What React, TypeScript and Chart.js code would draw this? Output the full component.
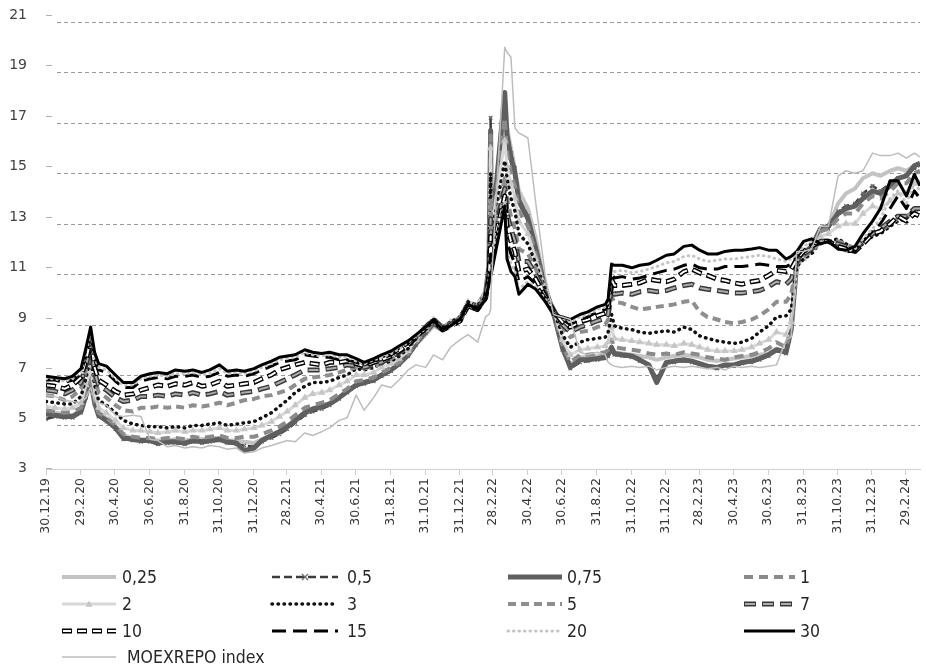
import React, { useEffect, useRef } from "react";
import { Chart, registerables } from "chart.js";

Chart.register(...registerables);

// Observation dates of the zero-coupon curve
const dates = [
  "2019-12-30", "2020-01-15", "2020-02-01", "2020-02-15", "2020-03-01", "2020-03-10", "2020-03-18", "2020-03-25", "2020-04-01", "2020-04-15", "2020-05-01", "2020-05-15", "2020-06-01", "2020-06-15",
  "2020-07-01", "2020-07-15", "2020-08-01", "2020-08-15", "2020-09-01", "2020-09-15", "2020-10-01", "2020-10-15", "2020-11-01", "2020-11-15", "2020-12-01", "2020-12-15",
  "2021-01-01", "2021-01-15", "2021-02-01", "2021-02-15", "2021-03-01", "2021-03-15", "2021-04-01", "2021-04-15", "2021-05-01", "2021-05-15", "2021-06-01", "2021-06-15", "2021-07-01", "2021-07-15", "2021-08-01", "2021-08-15",
  "2021-09-01", "2021-09-15", "2021-10-01", "2021-10-15", "2021-11-01", "2021-11-15", "2021-12-01", "2021-12-15", "2022-01-01", "2022-01-15", "2022-02-01", "2022-02-15", "2022-02-21", "2022-02-24", "2022-02-25",
  "2022-03-21", "2022-03-25", "2022-04-01", "2022-04-08", "2022-04-15", "2022-05-01", "2022-05-15", "2022-06-01", "2022-06-15",
  "2022-07-01", "2022-07-15", "2022-08-01", "2022-08-15", "2022-09-01", "2022-09-15", "2022-09-20", "2022-09-26",
  "2022-10-01", "2022-10-15", "2022-11-01", "2022-11-15", "2022-12-01", "2022-12-15", "2023-01-01", "2023-01-15", "2023-02-01", "2023-02-15", "2023-03-01", "2023-03-15", "2023-04-01", "2023-04-15", "2023-05-01", "2023-05-15", "2023-06-01", "2023-06-15", "2023-07-01", "2023-07-15",
  "2023-08-01", "2023-08-10", "2023-08-20", "2023-09-01", "2023-09-15", "2023-10-01", "2023-10-15", "2023-11-01", "2023-11-15", "2023-12-01", "2023-12-15", "2024-01-01", "2024-01-15", "2024-02-01", "2024-02-15", "2024-03-01", "2024-03-15", "2024-03-25",
];

// Yields by term (years), %
const y025 = [
  5.5, 5.5, 5.45, 5.4, 5.6, 6.3, 7.0, 6.0, 5.5, 5.3, 5.0, 4.6, 4.5, 4.45,
  4.45, 4.4, 4.4, 4.45, 4.4, 4.45, 4.45, 4.5, 4.5, 4.4, 4.4, 4.35,
  4.3, 4.45, 4.6, 4.75, 4.9, 5.15, 5.45, 5.6, 5.7, 5.85, 6.1, 6.3, 6.6, 6.7, 6.8, 7.0,
  7.2, 7.4, 7.75, 8.2, 8.6, 8.95, 8.75, 9.0, 9.2, 9.75, 9.7, 10.15, 11.0, 16.6, 12.0,
  17.6, 16.8, 16.0, 15.2, 14.3, 13.6, 12.4, 10.5, 9.4,
  8.0, 7.4, 7.7, 7.7, 7.75, 7.8, 7.85, 8.0,
  7.9, 7.85, 7.8, 7.75, 7.7, 7.6, 7.7, 7.75, 7.8, 7.75, 7.7, 7.6, 7.55, 7.6, 7.65, 7.7, 7.75, 7.8, 7.85, 8.05,
  7.9, 8.9, 11.6, 11.9, 12.0, 12.8, 12.9, 13.8, 14.2, 14.4, 14.8, 15.0, 14.9, 15.1, 15.2, 15.1, 15.3, 15.4,
];
const y05 = [
  5.25, 5.35, 5.3, 5.3, 5.5, 6.1, 6.7, 5.85, 5.35, 5.15, 4.85, 4.45, 4.4, 4.35,
  4.35, 4.25, 4.3, 4.3, 4.25, 4.35, 4.3, 4.35, 4.4, 4.3, 4.25, 4.2,
  4.15, 4.35, 4.5, 4.65, 4.85, 5.1, 5.4, 5.55, 5.65, 5.8, 6.05, 6.3, 6.55, 6.65, 6.75, 6.95,
  7.15, 7.4, 7.75, 8.2, 8.65, 9.0, 8.8, 9.05, 9.25, 9.8, 9.75, 10.2, 11.2, 17.2, 12.2,
  18.0, 16.7, 15.8, 15.2, 14.0, 13.3, 12.0, 10.3, 9.4,
  8.0, 7.25, 7.5, 7.55, 7.6, 7.65, 7.75, 8.0,
  7.8, 7.75, 7.7, 7.55, 7.35, 6.9, 7.45, 7.5, 7.55, 7.5, 7.4, 7.3, 7.25, 7.35, 7.35, 7.45, 7.5, 7.6, 7.75, 7.95,
  7.85, 8.8, 11.5, 11.8, 12.0, 12.7, 12.8, 13.5, 13.7, 13.8, 14.2, 14.5, 14.3, 14.6, 14.8, 14.9, 15.2, 15.3,
];
const y075 = [
  5.45, 5.4, 5.35, 5.35, 5.55, 6.2, 6.8, 5.9, 5.4, 5.2, 4.9, 4.5, 4.45, 4.4,
  4.4, 4.3, 4.35, 4.35, 4.3, 4.4, 4.35, 4.4, 4.45, 4.35, 4.3, 4.0,
  4.1, 4.4, 4.6, 4.75, 4.95, 5.2, 5.5, 5.65, 5.75, 5.85, 6.1, 6.35, 6.6, 6.7, 6.8, 7.0,
  7.2, 7.45, 7.8, 8.25, 8.7, 9.05, 8.8, 9.05, 9.25, 9.8, 9.75, 10.25, 11.3, 16.7, 12.3,
  18.2, 16.5, 15.6, 15.0, 13.9, 13.2, 12.0, 10.4, 9.5,
  8.1, 7.3, 7.6, 7.6, 7.65, 7.7, 7.8, 8.1,
  7.85, 7.8, 7.75, 7.6, 7.4, 6.7, 7.5, 7.55, 7.6, 7.55, 7.45, 7.35, 7.3, 7.4, 7.4, 7.5, 7.55, 7.65, 7.8, 8.0,
  7.9, 8.8, 11.5, 11.8, 12.1, 12.8, 12.9, 13.4, 13.6, 13.7, 14.0, 14.3, 14.2, 14.5, 14.8, 14.9, 15.3, 15.4,
];
const y1 = [
  5.6, 5.55, 5.5, 5.55, 5.7, 6.4, 7.0, 6.0, 5.5, 5.3, 5.0, 4.65, 4.55, 4.5,
  4.5, 4.45, 4.5, 4.5, 4.45, 4.55, 4.5, 4.55, 4.6, 4.5, 4.5, 4.55,
  4.55, 4.65, 4.8, 4.95, 5.15, 5.4, 5.7, 5.8, 5.9, 6.0, 6.25, 6.45, 6.75, 6.8, 6.9, 7.1,
  7.3, 7.5, 7.85, 8.3, 8.75, 9.1, 8.85, 9.1, 9.3, 9.85, 9.8, 10.3, 11.3, 16.5, 12.5,
  17.2, 15.8, 15.0, 14.5, 13.5, 12.9, 11.8, 10.4, 9.5,
  8.2, 7.5, 7.8, 7.8, 7.85, 7.9, 8.0, 8.4,
  8.1, 8.05, 8.0, 7.95, 7.85, 7.8, 7.85, 7.8, 7.9, 7.85, 7.8, 7.7, 7.65, 7.6, 7.7, 7.75, 7.8, 7.9, 8.05, 8.3,
  8.1, 8.9, 11.4, 11.7, 12.0, 12.7, 12.8, 13.2, 13.4, 13.4, 13.8, 14.1, 14.0, 14.3, 14.6, 14.6, 15.0, 15.1,
];
const y2 = [
  5.75, 5.7, 5.65, 5.7, 5.9, 6.6, 7.3, 6.3, 5.7, 5.5, 5.2, 4.9, 4.8, 4.8,
  4.75, 4.7, 4.75, 4.8, 4.75, 4.8, 4.8, 4.85, 4.9, 4.8, 4.8, 4.85,
  4.9, 5.0, 5.15, 5.35, 5.55, 5.8, 6.1, 6.25, 6.3, 6.4, 6.6, 6.75, 7.0, 7.0, 7.1, 7.3,
  7.45, 7.65, 7.95, 8.4, 8.8, 9.2, 8.9, 9.1, 9.3, 9.9, 9.8, 10.3, 11.3, 16.0, 12.7,
  16.3, 15.3, 14.6, 14.0, 13.1, 12.6, 11.6, 10.4, 9.6,
  8.4, 7.8, 8.0, 8.05, 8.1, 8.15, 8.3, 8.9,
  8.45, 8.4, 8.35, 8.3, 8.25, 8.2, 8.2, 8.15, 8.25, 8.2, 8.1, 8.0, 7.95, 7.95, 7.95, 8.0, 8.1, 8.25, 8.4, 8.7,
  8.6, 9.1, 11.3, 11.6, 11.9, 12.5, 12.6, 12.9, 13.0, 13.0, 13.4, 13.7, 13.6, 13.9, 14.2, 14.2, 14.6, 14.6,
];
const y3 = [
  5.95, 5.9, 5.85, 5.85, 6.15, 6.9, 7.7, 6.6, 6.0, 5.8, 5.5, 5.2, 5.05, 5.0,
  4.95, 4.95, 4.9, 4.95, 4.9, 5.0, 5.0, 5.05, 5.1, 5.0, 5.05, 5.1,
  5.15, 5.3, 5.5, 5.75, 6.0, 6.3, 6.55, 6.7, 6.7, 6.75, 6.9, 7.0, 7.25, 7.2, 7.3, 7.45,
  7.55, 7.75, 8.05, 8.45, 8.85, 9.25, 8.9, 9.1, 9.3, 9.9, 9.75, 10.25, 11.2, 15.0, 12.5,
  15.5, 14.8, 14.0, 13.5, 12.6, 12.2, 11.4, 10.4, 9.6,
  8.6, 8.1, 8.3, 8.4, 8.45, 8.5, 8.7, 9.4,
  8.95, 8.85, 8.8, 8.7, 8.65, 8.7, 8.75, 8.7, 8.9, 8.8, 8.55, 8.45, 8.35, 8.3, 8.25, 8.3, 8.45, 8.7, 8.95, 9.3,
  9.35, 9.6, 11.3, 11.6, 11.8, 12.3, 12.3, 12.4, 12.2, 12.0, 12.2, 12.5, 12.6, 12.9, 13.1, 13.2, 13.6, 13.7,
];
const y5 = [
  6.2, 6.15, 6.0, 6.15, 6.45, 7.2, 8.0, 6.9, 6.3, 6.1, 5.8, 5.6, 5.55, 5.7,
  5.7, 5.75, 5.7, 5.75, 5.7, 5.8, 5.75, 5.8, 5.9, 5.8, 5.9, 6.0,
  6.05, 6.15, 6.2, 6.3, 6.4, 6.6, 6.85, 6.9, 6.95, 7.0, 7.1, 7.2, 7.3, 7.25, 7.35, 7.45,
  7.65, 7.85, 8.15, 8.5, 8.9, 9.25, 8.9, 9.05, 9.25, 9.85, 9.7, 10.2, 11.1, 14.0, 12.2,
  14.8, 14.0, 13.3, 12.8, 12.0, 11.8, 11.2, 10.3, 9.6,
  8.9, 8.5, 8.7, 8.75, 8.9, 9.0, 9.2, 10.1,
  9.9, 9.85, 9.7, 9.6, 9.65, 9.7, 9.75, 9.8, 9.9, 9.95, 9.5, 9.3, 9.2, 9.1, 9.05, 9.1, 9.2, 9.35, 9.6, 9.9,
  9.9, 10.2, 11.4, 11.7, 11.9, 12.3, 12.3, 12.3, 12.2, 12.0, 12.3, 12.6, 12.7, 13.0, 13.2, 13.3, 13.5, 13.6,
];
const y7 = [
  6.4, 6.35, 6.25, 6.4, 6.7, 7.4, 8.2, 7.1, 6.6, 6.4, 6.1, 5.95, 6.0, 6.15,
  6.15, 6.2, 6.15, 6.25, 6.2, 6.3, 6.2, 6.25, 6.35, 6.2, 6.25, 6.3,
  6.35, 6.45, 6.55, 6.7, 6.85, 7.0, 7.2, 7.2, 7.2, 7.25, 7.3, 7.4, 7.35, 7.3, 7.4, 7.5,
  7.7, 7.9, 8.2, 8.5, 8.9, 9.2, 8.85, 9.0, 9.2, 9.8, 9.65, 10.1, 11.0, 13.2, 12.0,
  14.4, 13.4, 12.8, 12.3, 11.5, 11.5, 11.0, 10.2, 9.6,
  9.0, 8.7, 8.9, 9.0, 9.15, 9.25, 9.4, 10.5,
  10.2, 10.25, 10.2, 10.3, 10.35, 10.3, 10.35, 10.45, 10.55, 10.6, 10.45, 10.4, 10.35, 10.3, 10.25, 10.25, 10.3, 10.35, 10.5, 10.7,
  10.6, 10.8, 11.5, 11.8, 12.0, 12.3, 12.3, 12.2, 12.1, 12.0, 12.3, 12.6, 12.8, 13.1, 13.3, 13.3, 13.6, 13.6,
];
const y10 = [
  6.6, 6.55, 6.45, 6.6, 6.9, 7.6, 8.4, 7.3, 6.8, 6.6, 6.35, 6.2, 6.25, 6.4,
  6.5, 6.6, 6.55, 6.65, 6.6, 6.7, 6.55, 6.6, 6.75, 6.55, 6.6, 6.65,
  6.7, 6.85, 7.0, 7.2, 7.3, 7.4, 7.5, 7.45, 7.4, 7.5, 7.5, 7.55, 7.45, 7.35, 7.5, 7.6,
  7.75, 7.95, 8.2, 8.5, 8.85, 9.15, 8.8, 8.95, 9.15, 9.75, 9.6, 10.05, 10.9, 12.5, 11.8,
  14.1, 12.9, 12.3, 11.9, 11.1, 11.2, 10.8, 10.1, 9.55,
  9.1, 8.9, 9.1, 9.2, 9.35, 9.45, 9.6, 10.8,
  10.55, 10.55, 10.6, 10.65, 10.8, 10.75, 10.7, 10.8, 11.1, 11.2, 11.05, 10.95, 10.8, 10.75, 10.65, 10.6, 10.7, 10.75, 10.95, 11.15,
  11.1, 11.2, 11.6, 11.9, 12.1, 12.3, 12.3, 12.1, 12.0, 11.9, 12.2, 12.6, 12.7, 13.0, 13.3, 13.1, 13.4, 13.3,
];
const y15 = [
  6.8, 6.8, 6.7, 6.8, 7.1, 7.8, 8.6, 7.6, 7.2, 7.1, 6.75, 6.5, 6.5, 6.75,
  6.85, 6.9, 6.85, 6.95, 6.95, 7.0, 6.9, 6.95, 7.1, 6.95, 7.0, 6.95,
  7.05, 7.2, 7.35, 7.5, 7.55, 7.6, 7.8, 7.75, 7.7, 7.7, 7.6, 7.6, 7.5, 7.4, 7.55, 7.65,
  7.8, 8.0, 8.25, 8.5, 8.85, 9.1, 8.75, 8.9, 9.1, 9.7, 9.55, 10.0, 10.8, 11.8, 11.5,
  13.9, 12.3, 11.8, 11.4, 10.7, 10.9, 10.6, 10.05, 9.5,
  9.2, 9.0, 9.2, 9.3, 9.5, 9.6, 9.8, 11.0,
  10.85, 10.9, 10.8, 10.85, 10.95, 11.05, 11.15, 11.2, 11.35, 11.4, 11.25, 11.2, 11.2, 11.3, 11.3, 11.3, 11.35, 11.4, 11.35, 11.3,
  11.3, 11.4, 11.7, 12.0, 12.2, 12.2, 12.3, 12.0, 11.9, 11.9, 12.3, 12.7, 13.0, 13.6, 14.1, 13.6, 14.3, 14.0,
];
const y20 = [
  6.85, 6.85, 6.75, 6.85, 7.15, 7.9, 8.7, 7.7, 7.3, 7.2, 6.85, 6.6, 6.6, 6.85,
  6.95, 7.0, 6.95, 7.05, 7.05, 7.1, 7.0, 7.05, 7.25, 7.05, 7.1, 7.05,
  7.15, 7.3, 7.45, 7.6, 7.65, 7.7, 7.9, 7.8, 7.75, 7.8, 7.7, 7.7, 7.55, 7.45, 7.6, 7.7,
  7.85, 8.05, 8.3, 8.55, 8.85, 9.1, 8.8, 8.9, 9.15, 9.75, 9.6, 10.0, 10.7, 11.3, 11.2,
  13.9, 11.9, 11.4, 11.1, 10.4, 10.7, 10.5, 10.0, 9.45,
  9.25, 9.1, 9.3, 9.4, 9.6, 9.7, 9.9, 11.2,
  11.1, 11.15, 11.05, 11.1, 11.2, 11.3, 11.45, 11.5, 11.7, 11.75, 11.6, 11.5, 11.55, 11.6, 11.6, 11.65, 11.7, 11.75, 11.7, 11.6,
  11.5, 11.6, 11.8, 12.1, 12.3, 12.2, 12.3, 12.0, 11.9, 12.0, 12.4, 12.8, 13.2, 14.0, 14.3, 13.8, 14.6, 14.3,
];
const y30 = [
  6.95, 6.9, 6.85, 6.95, 7.25, 8.1, 8.9, 7.9, 7.45, 7.35, 7.0, 6.7, 6.7, 6.95,
  7.05, 7.1, 7.05, 7.2, 7.15, 7.2, 7.1, 7.2, 7.4, 7.15, 7.2, 7.15,
  7.25, 7.4, 7.55, 7.7, 7.75, 7.8, 8.0, 7.9, 7.85, 7.9, 7.8, 7.8, 7.65, 7.5, 7.65, 7.8,
  7.95, 8.15, 8.35, 8.6, 8.9, 9.15, 8.8, 8.95, 9.2, 9.8, 9.6, 10.0, 10.6, 11.0, 11.0,
  13.7, 11.6, 11.1, 10.9, 10.2, 10.6, 10.4, 9.9, 9.4,
  9.3, 9.2, 9.4, 9.5, 9.7, 9.8, 10.0, 11.4,
  11.35, 11.35, 11.25, 11.35, 11.4, 11.55, 11.75, 11.8, 12.1, 12.15, 11.95, 11.8, 11.8, 11.9, 11.95, 11.95, 12.0, 12.05, 11.95, 11.95,
  11.6, 11.7, 11.9, 12.3, 12.4, 12.2, 12.3, 12.0, 11.95, 12.1, 12.6, 13.1, 13.6, 14.7, 14.7, 14.1, 14.95, 14.5,
];
// MOEXREPO overnight repo index, %
const moexrepo = [
  6.2, 6.15, 6.0, 5.95, 5.9, 6.1, 6.5, 6.0, 5.9, 5.8, 5.4, 5.35, 5.4, 5.35,
  4.45, 4.4, 4.15, 4.2, 4.1, 4.15, 4.1, 4.2, 4.15, 4.05, 4.1, 3.9,
  3.95, 4.1, 4.2, 4.3, 4.4, 4.35, 4.7, 4.6, 4.75, 4.9, 5.2, 5.3, 6.2, 5.6, 6.1, 6.6,
  6.5, 6.8, 7.2, 7.4, 7.3, 7.8, 7.6, 8.1, 8.4, 8.6, 8.3, 9.3, 9.4, 9.6, 10.5,
  20.0, 19.8, 19.6, 16.8, 16.6, 16.4, 13.8, 10.9, 9.4,
  9.3, 9.2, 7.9, 7.8, 7.9, 7.8, 7.5, 7.4,
  7.35, 7.3, 7.35, 7.3, 7.35, 7.2, 7.3, 7.35, 7.3, 7.35, 7.3, 7.25, 7.3, 7.2, 7.35, 7.3, 7.35, 7.3, 7.35, 7.4,
  8.4, 8.5, 11.9, 11.9, 12.0, 12.9, 12.9, 14.9, 15.1, 15.0, 15.1, 15.8, 15.7, 15.7, 15.8, 15.6, 15.8, 15.65,
];

const seriesNames = ["0,25", "0,5", "0,75", "1", "2", "3", "5", "7", "10", "15", "20", "30", "MOEXREPO index"];
const seriesValues = [y025, y05, y075, y1, y2, y3, y5, y7, y10, y15, y20, y30, moexrepo];

// Date axis ticks
const axisTickDates = [
  "2019-12-30", "2020-02-29", "2020-04-30", "2020-06-30", "2020-08-31", "2020-10-31", "2020-12-31",
  "2021-02-28", "2021-04-30", "2021-06-30", "2021-08-31", "2021-10-31", "2021-12-31",
  "2022-02-28", "2022-04-30", "2022-06-30", "2022-08-31", "2022-10-31", "2022-12-31",
  "2023-02-28", "2023-04-30", "2023-06-30", "2023-08-31", "2023-10-31", "2023-12-31", "2024-02-29",
];
const axisTickLabels = [
  "30.12.19", "29.2.20", "30.4.20", "30.6.20", "31.8.20", "31.10.20", "31.12.20",
  "28.2.21", "30.4.21", "30.6.21", "31.8.21", "31.10.21", "31.12.21",
  "28.2.22", "30.4.22", "30.6.22", "31.8.22", "31.10.22", "31.12.22",
  "28.2.23", "30.4.23", "30.6.23", "31.8.23", "31.10.23", "31.12.23", "29.2.24",
];
const yTickValues = [3, 5, 7, 9, 11, 13, 15, 17, 19, 21];

const legendRows = [
  ["0,25", "0,5", "0,75", "1"],
  ["2", "3", "5", "7"],
  ["10", "15", "20", "30"],
  ["MOEXREPO index"],
];

type Stroke = { color: string; width: number; dash?: number[]; dashOffset?: number; cap?: CanvasLineCap };
type LineStyle = Stroke & { inner?: Stroke; point?: "crossRot" | "triangle"; pointColor?: string; pointRadius?: number };

const lineStyles: Record<string, LineStyle> = {
  "0,25": { color: "#c3c3c3", width: 4 },
  "0,5": { color: "#3c3c3c", width: 2.5, dash: [8, 4], point: "crossRot", pointColor: "#6a6a6a", pointRadius: 2.5 },
  "0,75": { color: "#5f5f5f", width: 5 },
  "1": { color: "#8a8a8a", width: 4, dash: [9, 6] },
  "2": { color: "#d8d8d8", width: 3, point: "triangle", pointColor: "#c6c6c6", pointRadius: 3 },
  "3": { color: "#111111", width: 3.5, dash: [0.5, 5.5], cap: "round" },
  "5": { color: "#8e8e8e", width: 4, dash: [8, 5] },
  "7": { color: "#383838", width: 5, dash: [12, 6], inner: { color: "#ababab", width: 2, dash: [10, 8], dashOffset: -1 } },
  "10": { color: "#000000", width: 5, dash: [10, 5], inner: { color: "#ffffff", width: 2, dash: [8, 7], dashOffset: -1 } },
  "15": { color: "#000000", width: 3, dash: [14, 7] },
  "20": { color: "#c4c4c4", width: 3, dash: [0.5, 5], cap: "round" },
  "30": { color: "#000000", width: 3 },
  "MOEXREPO index": { color: "#bdbdbd", width: 1.5 },
};

const DAY0 = Date.UTC(2019, 11, 30);
const dayOf = (s: string) => {
  const [y, m, d] = s.split("-").map(Number);
  return Math.round((Date.UTC(y, m - 1, d) - DAY0) / 86400000);
};

const FONT_AXIS = "'DejaVu Sans', Verdana, sans-serif";
const FONT_LEGEND = "'DejaVu Sans Condensed', 'Liberation Sans Narrow', 'DejaVu Sans', sans-serif";

function strokeLayer(ctx: CanvasRenderingContext2D, s: Stroke, x1: number, x2: number, y: number) {
  ctx.save();
  ctx.strokeStyle = s.color;
  ctx.lineWidth = s.width;
  ctx.setLineDash(s.dash || []);
  ctx.lineDashOffset = s.dashOffset || 0;
  ctx.lineCap = s.cap || "butt";
  ctx.beginPath();
  ctx.moveTo(x1, y);
  ctx.lineTo(x2, y);
  ctx.stroke();
  ctx.restore();
}

function drawMarker(ctx: CanvasRenderingContext2D, st: LineStyle, x: number, y: number) {
  const r = (st.pointRadius || 3) + 0.5;
  ctx.save();
  ctx.strokeStyle = st.pointColor || st.color;
  ctx.fillStyle = st.pointColor || st.color;
  ctx.lineWidth = 1.3;
  ctx.beginPath();
  if (st.point === "crossRot") {
    ctx.moveTo(x - r, y - r); ctx.lineTo(x + r, y + r);
    ctx.moveTo(x + r, y - r); ctx.lineTo(x - r, y + r);
    ctx.stroke();
  } else {
    ctx.moveTo(x, y - r); ctx.lineTo(x + r, y + r * 0.8); ctx.lineTo(x - r, y + r * 0.8);
    ctx.closePath();
    ctx.fill();
  }
  ctx.restore();
}

function drawSample(ctx: CanvasRenderingContext2D, st: LineStyle, x1: number, x2: number, y: number) {
  strokeLayer(ctx, st, x1, x2, y);
  if (st.inner) strokeLayer(ctx, st.inner, x1, x2, y);
  if (st.point) drawMarker(ctx, st, (x1 + x2) / 2, y);
}

const legendRowY = [577, 604, 631, 657];
const legendColLine = [[62, 116], [272, 338], [508, 562], [744, 795]];
const legendColText = [122, 347, 567, 800];

const decorPlugin = {
  id: "decor",
  beforeDatasetsDraw(chart: any) {
    const { ctx, chartArea, scales } = chart;
    const ys = scales.y;
    ctx.save();
    // dashed horizontal grid
    ctx.strokeStyle = "#9a9a9a";
    ctx.lineWidth = 1;
    ctx.setLineDash([4, 3]);
    yTickValues.forEach((v, i) => {
      if (i === 0) return;
      const py = Math.round(ys.getPixelForValue(v)) + 0.5;
      ctx.beginPath();
      ctx.moveTo(chartArea.left + 11, py);
      ctx.lineTo(chartArea.right, py);
      ctx.stroke();
    });
    ctx.setLineDash([]);
    // value labels with small marks
    ctx.font = `14px ${FONT_AXIS}`;
    ctx.fillStyle = "#404040";
    ctx.textAlign = "right";
    ctx.textBaseline = "middle";
    yTickValues.forEach((v, i) => {
      const py = i === 0 ? chartArea.bottom - 1 : Math.round(ys.getPixelForValue(v)) - 7;
      ctx.fillText(String(v), 27, py);
      ctx.strokeStyle = "#b0b0b0";
      ctx.beginPath();
      ctx.moveTo(chartArea.left, py + 0.5);
      ctx.lineTo(chartArea.left + 6, py + 0.5);
      ctx.stroke();
    });
    ctx.restore();
  },
  afterDraw(chart: any) {
    const ctx: CanvasRenderingContext2D = chart.ctx;
    ctx.save();
    ctx.font = `17.5px ${FONT_LEGEND}`;
    ctx.fillStyle = "#262626";
    ctx.textAlign = "left";
    ctx.textBaseline = "middle";
    legendRows.forEach((row, r) => {
      row.forEach((name, c) => {
        const y = legendRowY[r];
        const [x1, x2] = legendColLine[c];
        drawSample(ctx, lineStyles[name], x1, x2, y);
        const tx = name === "MOEXREPO index" ? 127 : legendColText[c];
        ctx.fillText(name, tx, y + 1);
      });
    });
    ctx.restore();
  },
};

function buildDatasets() {
  const xs = dates.map(dayOf);
  const out: any[] = [];
  seriesNames.forEach((name, i) => {
    const st = lineStyles[name];
    const data = xs.map((x, k) => ({ x, y: seriesValues[i][k] }));
    const order = (seriesNames.length - 1 - i) * 2 + 1;
    out.push({
      label: name,
      data,
      order,
      borderColor: st.color,
      borderWidth: st.width,
      borderDash: st.dash || [],
      borderCapStyle: st.cap || "butt",
      borderJoinStyle: "round",
      tension: 0,
      fill: false,
      pointRadius: st.point ? st.pointRadius : 0,
      pointStyle: st.point || "circle",
      pointBorderColor: st.pointColor || st.color,
      pointBackgroundColor: st.pointColor || st.color,
      pointBorderWidth: 1.2,
    });
    if (st.inner) {
      out.push({
        label: name + " ",
        data,
        order: order - 1,
        borderColor: st.inner.color,
        borderWidth: st.inner.width,
        borderDash: st.inner.dash || [],
        borderDashOffset: st.inner.dashOffset || 0,
        borderJoinStyle: "round",
        tension: 0,
        fill: false,
        pointRadius: 0,
      });
    }
  });
  return out;
}

export default function App() {
  const canvasRef = useRef<HTMLCanvasElement | null>(null);

  useEffect(() => {
    if (!canvasRef.current) return;
    const tickDays = axisTickDates.map(dayOf);
    const chart = new Chart(canvasRef.current, {
      type: "line",
      data: { datasets: buildDatasets() },
      options: {
        animation: false,
        responsive: false,
        devicePixelRatio: 1,
        events: [],
        layout: { padding: { top: 22, left: 46, right: 6, bottom: 130 } },
        plugins: { legend: { display: false }, tooltip: { enabled: false } },
        scales: {
          x: {
            type: "linear",
            min: 0,
            max: dayOf("2024-03-25"),
            afterBuildTicks: (scale: any) => {
              scale.ticks = tickDays.map((v) => ({ value: v }));
            },
            afterFit: (scale: any) => {
              scale.height = 70;
            },
            grid: { drawOnChartArea: false, drawTicks: true, tickLength: 6, color: "#d0d0d0" },
            border: { display: true, color: "#d0d0d0", width: 1 },
            ticks: {
              autoSkip: false,
              minRotation: 90,
              maxRotation: 90,
              padding: 3,
              color: "#383838",
              font: { family: FONT_AXIS, size: 12.5 },
              callback: (_v: any, i: number) => axisTickLabels[i],
            },
          },
          y: {
            type: "linear",
            display: false,
            min: 3.27,
            max: 21,
          },
        },
      },
      plugins: [decorPlugin],
    } as any);
    return () => chart.destroy();
  }, []);

  return (
    <div style={{ position: "fixed", left: 0, top: 0, width: 926, height: 669, background: "#ffffff" }}>
      <canvas ref={canvasRef} width={926} height={669} style={{ display: "block" }} />
    </div>
  );
}
